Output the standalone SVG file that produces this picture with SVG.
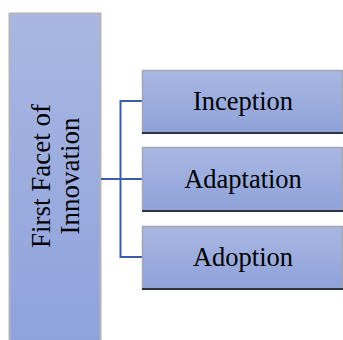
<svg xmlns="http://www.w3.org/2000/svg" width="343" height="340" viewBox="0 0 343 340">
  <defs>
    <linearGradient id="fillTall" x1="0" y1="0" x2="0" y2="1">
      <stop offset="0" stop-color="#a9b7e2"/>
      <stop offset="1" stop-color="#8ea2dc"/>
    </linearGradient>
    <linearGradient id="fillBox" x1="0" y1="0" x2="0" y2="1">
      <stop offset="0" stop-color="#a9b7e2"/>
      <stop offset="1" stop-color="#8ea2da"/>
    </linearGradient>
  </defs>
  <style>
    .box { fill: url(#fillBox); stroke: #a3a6b0; stroke-width: 1.5; }
    .shadow { stroke: #2e3340; stroke-width: 2; }
    .label { font-family: "Liberation Serif", "Times New Roman", serif; font-size: 26.5px; fill: #000; text-anchor: middle; }
    .conn { fill: none; stroke: #3b5ea8; stroke-width: 2; }
  </style>
  <rect width="343" height="340" fill="#ffffff"/>

  <g id="facet">
    <rect x="9.5" y="13.5" width="91" height="330" fill="url(#fillTall)" stroke="#b2b4bc" stroke-width="2"/>
    <text class="label" style="font-size:27px" transform="translate(50,176) rotate(-90)">First Facet of</text>
    <text class="label" style="font-size:27px" transform="translate(79,176) rotate(-90)">Innovation</text>
  </g>

  <g id="connectors">
    <path class="conn" d="M101 179 H120.5"/>
    <path class="conn" d="M142 101 H120.5 V257 H142"/>
    <path class="conn" d="M120.5 179 H142"/>
  </g>

  <g id="inception">
    <rect class="box" x="142.5" y="70.5" width="200" height="62"/>
    <line class="shadow" x1="142" y1="133" x2="343" y2="133"/>
    <text class="label" x="243" y="110">Inception</text>
  </g>

  <g id="adaptation">
    <rect class="box" x="142.5" y="147.5" width="200" height="63"/>
    <line class="shadow" x1="142" y1="211" x2="343" y2="211"/>
    <text class="label" x="243" y="188">Adaptation</text>
  </g>

  <g id="adoption">
    <rect class="box" x="142.5" y="226.5" width="200" height="62"/>
    <line class="shadow" x1="142" y1="289" x2="343" y2="289"/>
    <text class="label" x="243" y="266">Adoption</text>
  </g>
</svg>
